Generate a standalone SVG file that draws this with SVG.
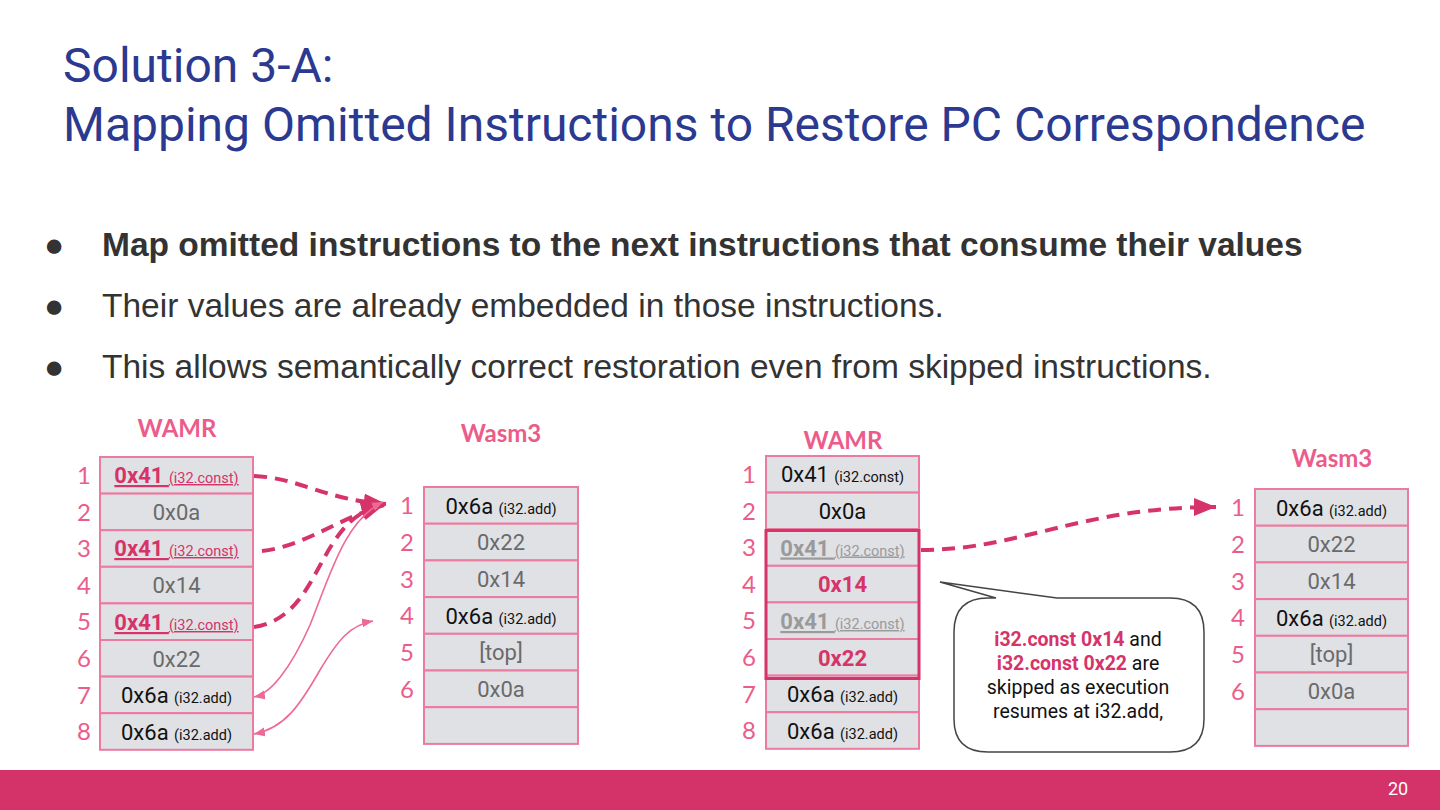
<svg xmlns="http://www.w3.org/2000/svg" width="1440" height="810" viewBox="0 0 1440 810">
<style>
.title{font-family:Roboto,"Liberation Sans",sans-serif;font-size:48px;fill:#2b3a90}
.bul{font-family:"Liberation Sans",Arial,sans-serif;font-size:33.5px;fill:#333333}
.hdr{font-family:Lato,"Liberation Sans",sans-serif;font-weight:bold;font-size:24px;fill:#ec5c8b;text-anchor:middle}
.num{font-family:Lato,"Liberation Sans",sans-serif;font-size:24px;fill:#ec5c8b;text-anchor:middle}
.cell{fill:#dfe1e5;stroke:#ec7ba0;stroke-width:2}
.t{font-family:Roboto,"Liberation Sans",sans-serif;font-size:22px;text-anchor:middle}
.s{font-size:14.5px;font-weight:normal}
.blk{fill:#111111}
.gry{fill:#6a6a6a}
.pk{fill:#d63369;font-weight:bold;text-decoration:underline}
.gu{fill:#9a9a9a;font-weight:bold;text-decoration:underline}
.pb{fill:#d63369;font-weight:bold}
.dash{fill:none;stroke:#d63369;stroke-width:4;stroke-dasharray:13 8}
.thin{fill:none;stroke:#ec6a94;stroke-width:1.6}
.co{font-family:Roboto,"Liberation Sans",sans-serif;font-size:19.5px;fill:#111111;text-anchor:middle}
</style>
<defs>
<marker id="big" markerUnits="userSpaceOnUse" markerWidth="24" markerHeight="20" refX="22" refY="9" orient="auto">
<path d="M0,0 L22,9 L0,18 Z" fill="#d63369"/>
</marker>
<marker id="sm" markerUnits="userSpaceOnUse" markerWidth="12" markerHeight="10" refX="11" refY="4.5" orient="auto-start-reverse">
<path d="M0,0 L11,4.5 L0,9 Z" fill="#ec6a94"/>
</marker>
</defs>
<rect width="1440" height="810" fill="#ffffff"/>
<g id="title">
<text class="title" x="63" y="82">Solution 3-A:</text>
<text class="title" x="63" y="141">Mapping Omitted Instructions to Restore PC Correspondence</text>
</g>
<g id="bullets">
<text class="bul" x="44" y="256" font-size="29">●</text>
<text class="bul" x="102" y="256" font-weight="bold">Map omitted instructions to the next instructions that consume their values</text>
<text class="bul" x="44" y="317" font-size="29">●</text>
<text class="bul" x="102" y="317">Their values are already embedded in those instructions.</text>
<text class="bul" x="44" y="378" font-size="29">●</text>
<text class="bul" x="102" y="378">This allows semantically correct restoration even from skipped instructions.</text>
</g>
<g id="wamr-left">
<text class="hdr" x="177" y="437">WAMR</text>
<rect class="cell" x="100" y="457" width="153" height="36.6"/>
<rect class="cell" x="100" y="493.6" width="153" height="36.6"/>
<rect class="cell" x="100" y="530.2" width="153" height="36.6"/>
<rect class="cell" x="100" y="566.8" width="153" height="36.6"/>
<rect class="cell" x="100" y="603.4" width="153" height="36.6"/>
<rect class="cell" x="100" y="640" width="153" height="36.6"/>
<rect class="cell" x="100" y="676.6" width="153" height="36.6"/>
<rect class="cell" x="100" y="713.2" width="153" height="36.6"/>
<text class="num" x="84" y="484">1</text>
<text class="num" x="84" y="521">2</text>
<text class="num" x="84" y="557">3</text>
<text class="num" x="84" y="594">4</text>
<text class="num" x="84" y="630">5</text>
<text class="num" x="84" y="667">6</text>
<text class="num" x="84" y="704">7</text>
<text class="num" x="84" y="740">8</text>
<text class="t pk" x="176.5" y="483">0x41 <tspan class="s">(i32.const)</tspan></text>
<text class="t gry" x="176.5" y="520">0x0a</text>
<text class="t pk" x="176.5" y="556">0x41 <tspan class="s">(i32.const)</tspan></text>
<text class="t gry" x="176.5" y="593">0x14</text>
<text class="t pk" x="176.5" y="630">0x41 <tspan class="s">(i32.const)</tspan></text>
<text class="t gry" x="176.5" y="666.5">0x22</text>
<text class="t blk" x="176.5" y="703">0x6a <tspan class="s">(i32.add)</tspan></text>
<text class="t blk" x="176.5" y="739.5">0x6a <tspan class="s">(i32.add)</tspan></text>
</g>
<g id="wasm3-left">
<text class="hdr" x="501" y="442">Wasm3</text>
<rect class="cell" x="424" y="487" width="154" height="36.7"/>
<rect class="cell" x="424" y="523.7" width="154" height="36.7"/>
<rect class="cell" x="424" y="560.4" width="154" height="36.7"/>
<rect class="cell" x="424" y="597.1" width="154" height="36.7"/>
<rect class="cell" x="424" y="633.8" width="154" height="36.7"/>
<rect class="cell" x="424" y="670.5" width="154" height="36.7"/>
<rect class="cell" x="424" y="707.2" width="154" height="36.7"/>
<text class="num" x="407" y="514">1</text>
<text class="num" x="407" y="551">2</text>
<text class="num" x="407" y="588">3</text>
<text class="num" x="407" y="624">4</text>
<text class="num" x="407" y="661">5</text>
<text class="num" x="407" y="698">6</text>
<text class="t blk" x="501" y="513.5">0x6a <tspan class="s">(i32.add)</tspan></text>
<text class="t gry" x="501" y="550">0x22</text>
<text class="t gry" x="501" y="587">0x14</text>
<text class="t blk" x="501" y="623.5">0x6a <tspan class="s">(i32.add)</tspan></text>
<text class="t gry" x="501" y="660">[top]</text>
<text class="t gry" x="501" y="697">0x0a</text>
</g>
<g id="wamr-right">
<text class="hdr" x="843" y="449">WAMR</text>
<rect class="cell" x="766" y="456" width="153" height="36.6"/>
<rect class="cell" x="766" y="492.6" width="153" height="36.6"/>
<rect class="cell" x="766" y="529.2" width="153" height="36.6"/>
<rect class="cell" x="766" y="565.8" width="153" height="36.6"/>
<rect class="cell" x="766" y="602.4" width="153" height="36.6"/>
<rect class="cell" x="766" y="639" width="153" height="36.6"/>
<rect class="cell" x="766" y="675.6" width="153" height="36.6"/>
<rect class="cell" x="766" y="712.2" width="153" height="36.6"/>
<rect x="766" y="530.5" width="153" height="148" fill="none" stroke="#d63369" stroke-width="3"/>
<text class="num" x="749" y="483">1</text>
<text class="num" x="749" y="520">2</text>
<text class="num" x="749" y="556">3</text>
<text class="num" x="749" y="593">4</text>
<text class="num" x="749" y="629">5</text>
<text class="num" x="749" y="666">6</text>
<text class="num" x="749" y="703">7</text>
<text class="num" x="749" y="739">8</text>
<text class="t blk" x="842.5" y="482">0x41 <tspan class="s">(i32.const)</tspan></text>
<text class="t blk" x="842.5" y="519">0x0a</text>
<text class="t gu" x="842.5" y="555.5">0x41 <tspan class="s">(i32.const)</tspan></text>
<text class="t pb" x="842.5" y="592">0x14</text>
<text class="t gu" x="842.5" y="629">0x41 <tspan class="s">(i32.const)</tspan></text>
<text class="t pb" x="842.5" y="665.5">0x22</text>
<text class="t blk" x="842.5" y="702">0x6a <tspan class="s">(i32.add)</tspan></text>
<text class="t blk" x="842.5" y="738.5">0x6a <tspan class="s">(i32.add)</tspan></text>
</g>
<g id="wasm3-right">
<text class="hdr" x="1332" y="467">Wasm3</text>
<rect class="cell" x="1255" y="489" width="153" height="36.7"/>
<rect class="cell" x="1255" y="525.7" width="153" height="36.7"/>
<rect class="cell" x="1255" y="562.4" width="153" height="36.7"/>
<rect class="cell" x="1255" y="599.1" width="153" height="36.7"/>
<rect class="cell" x="1255" y="635.8" width="153" height="36.7"/>
<rect class="cell" x="1255" y="672.5" width="153" height="36.7"/>
<rect class="cell" x="1255" y="709.2" width="153" height="36.7"/>
<text class="num" x="1238" y="516">1</text>
<text class="num" x="1238" y="553">2</text>
<text class="num" x="1238" y="590">3</text>
<text class="num" x="1238" y="626">4</text>
<text class="num" x="1238" y="663">5</text>
<text class="num" x="1238" y="700">6</text>
<text class="t blk" x="1331.5" y="515.5">0x6a <tspan class="s">(i32.add)</tspan></text>
<text class="t gry" x="1331.5" y="552">0x22</text>
<text class="t gry" x="1331.5" y="589">0x14</text>
<text class="t blk" x="1331.5" y="625.5">0x6a <tspan class="s">(i32.add)</tspan></text>
<text class="t gry" x="1331.5" y="662">[top]</text>
<text class="t gry" x="1331.5" y="699">0x0a</text>
</g>
<g id="callout">
<path d="M996,598 L940,582 L1057,598 L1170,598 Q1204,598 1204,632 L1204,719 Q1204,752 1170,752 L988,752 Q954,752 954,719 L954,632 Q954,598 988,598 Z" fill="#ffffff" stroke="#444444" stroke-width="1.5"/>
<text class="co" x="1078" y="646"><tspan class="pb">i32.const 0x14</tspan> and</text>
<text class="co" x="1078" y="670"><tspan class="pb">i32.const 0x22</tspan> are</text>
<text class="co" x="1078" y="694">skipped as execution</text>
<text class="co" x="1078" y="718">resumes at i32.add,</text>
</g>
<g id="connectors">
<path class="dash" d="M254,476 C300,478 325,500 386,504" marker-end="url(#big)"/>
<path class="dash" d="M262,551 C305,546 335,520 384,505" marker-end="url(#big)"/>
<path class="dash" d="M254,627 C300,620 312,575 333,543 C348,520 362,510 383,505" marker-end="url(#big)"/>
<path class="thin" d="M254,697 C270,694 290,670 310,625 C330,575 345,520 383,502" marker-start="url(#sm)" marker-end="url(#sm)"/>
<path class="thin" d="M254,734 C285,728 300,705 320,670 C338,640 350,625 373,621" marker-start="url(#sm)" marker-end="url(#sm)"/>
<path class="dash" d="M921,550 C1020,550 1080,507 1216,507" marker-end="url(#big)"/>
</g>
<g id="footer">
<rect x="0" y="770" width="1440" height="40" fill="#d43369"/>
<text x="1398" y="795" font-family="Roboto,'Liberation Sans',sans-serif" font-size="18" fill="#ffffff" text-anchor="middle">20</text>
</g>
</svg>
